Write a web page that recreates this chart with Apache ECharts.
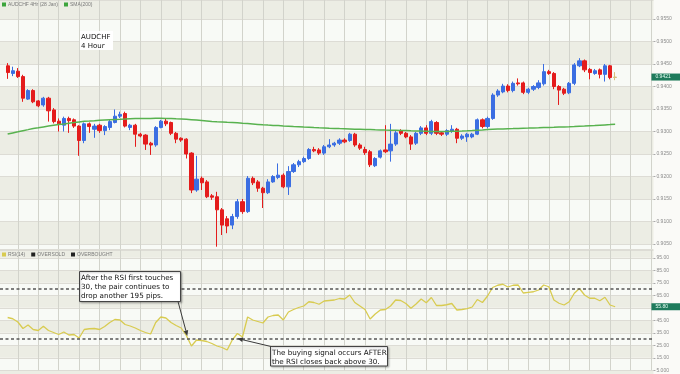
<!DOCTYPE html>
<html><head><meta charset="utf-8">
<script src="https://cdn.jsdelivr.net/npm/echarts@6/dist/echarts.min.js"></script>
<style>html,body{margin:0;padding:0;background:#fafaf7;}#c{width:680px;height:374px;}</style>
</head><body><div id="c"></div>
<script>
// ---------- data ----------
const openP = [0.9446,0.9429,0.9434,0.9422,0.9372,0.9391,0.9368,0.9359,0.9374,0.9348,
0.9323,0.9314,0.9329,0.9326,0.9312,0.9280,0.9317,0.9305,0.9314,0.9302,
0.9309,0.9320,0.9334,0.9340,0.9309,0.9314,0.9294,0.9292,0.9274,0.9270,
0.9309,0.9323,0.9320,0.9296,0.9285,0.9283,0.9252,0.9170,0.9196,0.9188,
0.9157,0.9155,0.9126,0.9106,0.9092,0.9111,0.9144,0.9122,0.9196,0.9188,
0.9174,0.9164,0.9188,0.9198,0.9203,0.9177,0.9211,0.9226,0.9233,0.9240,
0.9260,0.9259,0.9252,0.9266,0.9270,0.9274,0.9281,0.9280,0.9294,0.9270,
0.9260,0.9255,0.9224,0.9243,0.9259,0.9257,0.9272,0.9302,0.9296,0.9288,
0.9274,0.9296,0.9308,0.9296,0.9320,0.9297,0.9294,0.9300,0.9305,0.9285,
0.9288,0.9288,0.9294,0.9326,0.9311,0.9329,0.9381,0.9388,0.9401,0.9391,
0.9408,0.9408,0.9387,0.9394,0.9398,0.9406,0.9433,0.9429,0.9400,0.9394,
0.9386,0.9407,0.9446,0.9457,0.9438,0.9429,0.9437,0.9427,0.9446,0.9420];
const closeP = [0.9431,0.9435,0.9422,0.9374,0.9391,0.9366,0.9357,0.9374,0.9346,0.9322,
0.9317,0.9329,0.9324,0.9312,0.9280,0.9317,0.9311,0.9312,0.9302,0.9311,
0.9322,0.9334,0.9338,0.9312,0.9314,0.9294,0.9290,0.9272,0.9270,0.9309,
0.9323,0.9317,0.9296,0.9283,0.9281,0.9250,0.9170,0.9194,0.9186,0.9155,
0.9154,0.9126,0.9092,0.9090,0.9111,0.9144,0.9122,0.9196,0.9186,0.9174,
0.9164,0.9188,0.9200,0.9203,0.9177,0.9211,0.9226,0.9233,0.9240,0.9260,
0.9257,0.9252,0.9266,0.9270,0.9274,0.9281,0.9277,0.9294,0.9270,0.9263,
0.9253,0.9226,0.9240,0.9257,0.9255,0.9272,0.9297,0.9296,0.9288,0.9272,
0.9296,0.9308,0.9296,0.9322,0.9296,0.9294,0.9302,0.9305,0.9285,0.9290,
0.9294,0.9294,0.9326,0.9311,0.9329,0.9381,0.9390,0.9401,0.9391,0.9407,
0.9406,0.9387,0.9394,0.9400,0.9408,0.9433,0.9429,0.9400,0.9392,0.9385,
0.9407,0.9448,0.9457,0.9437,0.9431,0.9435,0.9427,0.9446,0.9420,0.9421];
const lowP = [0.9417,0.9423,0.9419,0.9366,0.9370,0.9363,0.9354,0.9355,0.9322,0.9318,
0.9300,0.9300,0.9297,0.9308,0.9246,0.9274,0.9297,0.9286,0.9297,0.9292,
0.9303,0.9318,0.9330,0.9309,0.9303,0.9266,0.9287,0.9259,0.9248,0.9266,
0.9307,0.9312,0.9292,0.9274,0.9277,0.9240,0.9163,0.9166,0.9170,0.9152,
0.9148,0.9044,0.9070,0.9074,0.9083,0.9106,0.9117,0.9119,0.9181,0.9166,
0.9130,0.9161,0.9186,0.9194,0.9174,0.9159,0.9208,0.9221,0.9230,0.9237,
0.9254,0.9248,0.9248,0.9263,0.9266,0.9270,0.9274,0.9277,0.9266,0.9259,
0.9248,0.9221,0.9221,0.9240,0.9252,0.9233,0.9268,0.9292,0.9285,0.9259,
0.9270,0.9292,0.9292,0.9292,0.9292,0.9290,0.9290,0.9297,0.9274,0.9281,
0.9277,0.9285,0.9292,0.9307,0.9307,0.9326,0.9377,0.9385,0.9387,0.9387,
0.9402,0.9383,0.9383,0.9390,0.9394,0.9402,0.9426,0.9394,0.9359,0.9381,
0.9383,0.9403,0.9443,0.9432,0.9416,0.9426,0.9418,0.9411,0.9416,0.9414];
const highP = [0.9452,0.9444,0.9441,0.9426,0.9394,0.9394,0.9370,0.9377,0.9377,0.9352,
0.9329,0.9333,0.9333,0.9329,0.9314,0.9320,0.9320,0.9317,0.9317,0.9314,
0.9326,0.9349,0.9344,0.9344,0.9317,0.9317,0.9297,0.9294,0.9277,0.9312,
0.9326,0.9329,0.9322,0.9299,0.9287,0.9285,0.9254,0.9246,0.9200,0.9192,
0.9161,0.9166,0.9130,0.9112,0.9117,0.9150,0.9150,0.9201,0.9200,0.9192,
0.9177,0.9194,0.9203,0.9229,0.9207,0.9223,0.9230,0.9237,0.9244,0.9263,
0.9266,0.9263,0.9270,0.9283,0.9277,0.9285,0.9285,0.9297,0.9297,0.9274,
0.9266,0.9259,0.9243,0.9260,0.9314,0.9317,0.9301,0.9305,0.9299,0.9292,
0.9299,0.9312,0.9314,0.9326,0.9323,0.9301,0.9305,0.9314,0.9308,0.9294,
0.9297,0.9297,0.9329,0.9329,0.9333,0.9385,0.9394,0.9406,0.9405,0.9411,
0.9418,0.9411,0.9397,0.9403,0.9414,0.9450,0.9437,0.9432,0.9403,0.9397,
0.9410,0.9452,0.9463,0.9460,0.9441,0.9439,0.9440,0.9450,0.9448,0.9432];
const sma200 = [0.92944,0.92969,0.92993,0.93018,0.93042,0.93067,0.93084,0.93102,0.93120,0.93138,
0.93156,0.93169,0.93184,0.93198,0.93213,0.93227,0.93233,0.93240,0.93249,0.93256,
0.93262,0.93267,0.93271,0.93276,0.93282,0.93287,0.93289,0.93291,0.93291,0.93293,
0.93293,0.93291,0.93287,0.93282,0.93278,0.93271,0.93262,0.93253,0.93244,0.93233,
0.93222,0.93216,0.93211,0.93204,0.93200,0.93193,0.93184,0.93176,0.93167,0.93158,
0.93149,0.93142,0.93136,0.93131,0.93124,0.93118,0.93111,0.93107,0.93100,0.93096,
0.93089,0.93084,0.93080,0.93073,0.93069,0.93064,0.93060,0.93056,0.93051,0.93049,
0.93044,0.93042,0.93038,0.93036,0.93031,0.93029,0.93027,0.93022,0.93020,0.93016,
0.93013,0.93009,0.93007,0.93002,0.93000,0.92998,0.93000,0.93004,0.93007,0.93011,
0.93016,0.93022,0.93029,0.93036,0.93044,0.93051,0.93056,0.93058,0.93062,0.93064,
0.93069,0.93073,0.93076,0.93080,0.93082,0.93087,0.93091,0.93093,0.93098,0.93100,
0.93104,0.93109,0.93116,0.93120,0.93127,0.93133,0.93140,0.93147,0.93153,0.93160];
const rsi14 = [47.2,46.2,43.6,38.4,41.2,37.6,36.8,40.2,36.8,35.2,
33.6,35.6,33.2,33.6,30.8,37.6,38.2,38.4,37.6,40.0,
43.2,45.6,45.2,41.6,40.4,38.8,36.8,35.2,34.0,43.2,
47.6,46.8,43.2,40.8,38.8,32.8,24.4,29.2,28.8,28.0,
26.4,24.4,23.2,21.2,29.2,34.4,31.6,47.6,45.2,44.0,
42.8,47.6,48.8,49.2,45.2,51.6,53.6,55.2,56.4,59.8,
59.2,57.8,60.4,60.8,61.2,62.4,62.0,65.2,59.2,56.4,
53.6,46.0,50.0,53.2,53.6,56.4,61.2,60.8,58.4,54.6,
58.0,62.0,59.0,63.2,56.8,56.8,57.4,58.4,53.2,53.6,
54.3,55.6,61.6,59.2,64.4,71.2,73.0,73.8,71.6,73.0,
73.2,66.8,67.3,67.8,69.2,73.2,71.8,61.2,58.6,57.2,
59.8,66.6,70.4,65.2,62.6,62.6,60.6,63.4,57.2,55.8];
const OVERBOUGHT = 70, OVERSOLD = 30;
const seriesNames = ['AUDCHF 4Hr (28 Jan)', 'SMA(200)', 'RSI(14)', 'OVERSOLD', 'OVERBOUGHT'];
const titleLines = ['AUDCHF', '4 Hour'];
const note1 = ['After the RSI first touches', '30, the pair continues to', 'drop another 195 pips.'];
const note2 = ['The buying signal occurs AFTER', 'the RSI closes back above 30.'];
const TOUCH_INDEX = 35, SIGNAL_INDEX = 45;
const barLabels = openP.map((_, i) => 'Bar ' + (i + 1));

// ---------- layout ----------
const LEAD = 1, TRAIL = 7;
const N = openP.length;
const cats = ['lead'].concat(barLabels, Array.from({length: TRAIL}, (_, i) => 'next' + (i + 1)));
const CW = 5.105;
const GW = cats.length * CW;
const pad = a => ['-'].concat(a);
const UP = '#3b6ee2', DN = '#e41c1c', TAN = '#d6bf7e';
const BAND_A = '#f8faf6', BAND_B = '#ecede4', GRIDC = '#d2d3cb';
const candleData = [['-','-','-','-']].concat(openP.map((o, i) => {
  const v = [o, closeP[i], lowP[i], highP[i]];
  if (i === N - 1) return {value: v, itemStyle: {color: TAN, color0: TAN, borderColor: TAN, borderColor0: TAN}};
  return v;
}));

const xBase = gi => ({
  gridIndex: gi, type: 'category', data: cats, boundaryGap: true,
  axisLine: {show: false}, axisTick: {show: false}, axisLabel: {show: false},
  splitLine: {show: true, interval: i => i % 4 === 3, alignWithLabel: true,
    lineStyle: {color: GRIDC, width: 1}}
});
const yLabel = {fontSize: 5, color: '#8a8a8a', fontFamily: 'Liberation Sans', margin: 3};
const legendText = {fontSize: 5, color: '#7a7a7a', fontFamily: 'Liberation Sans', padding: [0, 0, 0, -3]};
const icon = c => ({color: c, borderColor: c, borderWidth: 0});

const chart = echarts.init(document.getElementById('c'), null, {renderer: 'canvas'});
chart.setOption({
  animation: false,
  backgroundColor: '#fafaf7',
  grid: [
    {left: 0, top: 0, width: GW, height: 249},
    {left: 0, top: 250, width: GW, height: 120.25}
  ],
  legend: [
    {left: 2, top: 2, padding: 0, itemWidth: 4, itemHeight: 4, itemGap: 6, icon: 'rect', textStyle: legendText,
      data: [{name: seriesNames[0], itemStyle: icon('#3da53d')}, {name: seriesNames[1], itemStyle: icon('#3da53d')}]},
    {left: 2, top: 252, padding: 0, itemWidth: 4, itemHeight: 4, itemGap: 6, icon: 'rect', textStyle: legendText,
      data: [{name: seriesNames[2], itemStyle: icon('#d8cb50')}, {name: seriesNames[3], itemStyle: icon('#222')}, {name: seriesNames[4], itemStyle: icon('#222')}]}
  ],
  xAxis: [xBase(0), xBase(1)],
  yAxis: [
    {gridIndex: 0, type: 'value', position: 'right', min: 0.903889, max: 0.959222, splitNumber: 11,
      axisLine: {show: false}, axisTick: {show: true, length: 2, lineStyle: {color: '#aaa'}},
      axisLabel: Object.assign({formatter: v => v.toFixed(4), showMinLabel: false, showMaxLabel: false}, yLabel),
      splitLine: {show: true, lineStyle: {color: '#dddcd5'}},
      splitArea: {show: true, areaStyle: {color: [BAND_A, BAND_B]}}},
    {gridIndex: 1, type: 'value', position: 'right', min: 5, max: 101.2, interval: 10,
      axisLine: {show: false}, axisTick: {show: true, length: 2, lineStyle: {color: '#aaa'}},
      axisLabel: Object.assign({formatter: v => v < 10 ? v.toFixed(3) : v.toFixed(2), showMinLabel: true, showMaxLabel: false}, yLabel),
      splitLine: {show: true, lineStyle: {color: '#dddcd5'}},
      splitArea: {show: true, areaStyle: {color: [BAND_A, BAND_B]}}}
  ],
  series: [
    {name: seriesNames[0], type: 'candlestick', xAxisIndex: 0, yAxisIndex: 0, data: candleData,
      barWidth: '72%',
      itemStyle: {color: UP, color0: DN, borderColor: UP, borderColor0: DN, borderWidth: 1}},
    {name: seriesNames[1], type: 'line', xAxisIndex: 0, yAxisIndex: 0, data: pad(sma200),
      symbol: 'none', lineStyle: {color: '#58b24f', width: 1.5}, itemStyle: {color: '#3da53d'}},
    {name: seriesNames[2], type: 'line', xAxisIndex: 1, yAxisIndex: 1, data: pad(rsi14),
      symbol: 'none', lineStyle: {color: '#d8cb50', width: 1.3}, itemStyle: {color: '#d8cb50'},
      markLine: {silent: true, symbol: 'none', label: {show: false},
        lineStyle: {color: '#555', width: 1.5, type: [3, 2.5]},
        data: [{yAxis: OVERBOUGHT}, {yAxis: OVERSOLD}]}},
    {name: seriesNames[3], type: 'line', xAxisIndex: 1, yAxisIndex: 1, data: [], itemStyle: {color: '#222'}},
    {name: seriesNames[4], type: 'line', xAxisIndex: 1, yAxisIndex: 1, data: [], itemStyle: {color: '#222'}}
  ]
});

// ---------- annotations ----------
const FONT = 'DejaVu Sans';
function arrowEls(x1, y1, x2, y2) {
  const a = Math.atan2(y2 - y1, x2 - x1), L = 5.5, W = 2.3;
  const bx = x2 - L * Math.cos(a), by = y2 - L * Math.sin(a);
  const px = -Math.sin(a) * W, py = Math.cos(a) * W;
  return [
    {type: 'line', z: 100, shape: {x1: x1, y1: y1, x2: bx, y2: by}, style: {stroke: '#3a3a3a', lineWidth: 1}},
    {type: 'polygon', z: 100, shape: {points: [[x2, y2], [bx + px, by + py], [bx - px, by - py]]}, style: {fill: '#3a3a3a'}}
  ];
}
function box(x, y, w, h, lines, fs, lh) {
  return [
    {type: 'rect', z: 100, shape: {x: x + 0.5, y: y + 0.5, width: w, height: h},
      style: {fill: '#ffffff', stroke: '#444', lineWidth: 1, shadowBlur: 2, shadowColor: 'rgba(0,0,0,0.25)', shadowOffsetX: 1, shadowOffsetY: 1}},
    {type: 'text', z: 101, x: x + 2, y: y + 2, style: {text: lines.join('\n'), fontSize: fs, fontFamily: FONT, fill: '#111', lineHeight: lh}}
  ];
}
const touchPt = chart.convertToPixel({xAxisIndex: 1, yAxisIndex: 1}, [TOUCH_INDEX + LEAD, rsi14[TOUCH_INDEX]]);
const sigPt = chart.convertToPixel({xAxisIndex: 1, yAxisIndex: 1}, [SIGNAL_INDEX + LEAD, OVERSOLD]);
const lastClose = closeP[N - 1], lastRsi = rsi14[N - 1];
const yPrice = chart.convertToPixel({yAxisIndex: 0}, lastClose);
const yRsi = chart.convertToPixel({yAxisIndex: 1}, lastRsi);
const yBottom = chart.convertToPixel({yAxisIndex: 1}, 5);
const tagX = GW - 2;
function tag(y, txt) {
  return [
    {type: 'rect', z: 100, shape: {x: tagX, y: y - 3.5, width: 680 - tagX, height: 7}, style: {fill: '#1f7b5c'}},
    {type: 'text', z: 101, x: tagX + 4, y: y, style: {text: txt, fontSize: 5, fontFamily: 'Liberation Sans', fill: '#e8fff4', verticalAlign: 'middle'}}
  ];
}
const graphics = [].concat(
  [{type: 'rect', z: -1, shape: {x: 0, y: yBottom, width: GW, height: 374 - yBottom}, style: {fill: BAND_B}}],
  [{type: 'rect', z: 100, shape: {x: 80, y: 31, width: 33, height: 19}, style: {fill: '#ffffff'}},
   {type: 'text', z: 101, x: 81, y: 32.5, style: {text: titleLines.join('\n'), fontSize: 7, fontFamily: FONT, fill: '#111', lineHeight: 9}}],
  box(79, 271, 101, 30, note1, 7.2, 9.3),
  box(270, 346, 117, 19.5, note2, 7.2, 9.3),
  arrowEls(178, 301.5, touchPt[0] + 1, touchPt[1] + 0.5),
  arrowEls(271, 346.5, sigPt[0], sigPt[1] - 0.5),
  tag(yPrice, lastClose.toFixed(4)),
  tag(yRsi, lastRsi.toFixed(2))
);
chart.setOption({graphic: graphics});
</script></body></html>
